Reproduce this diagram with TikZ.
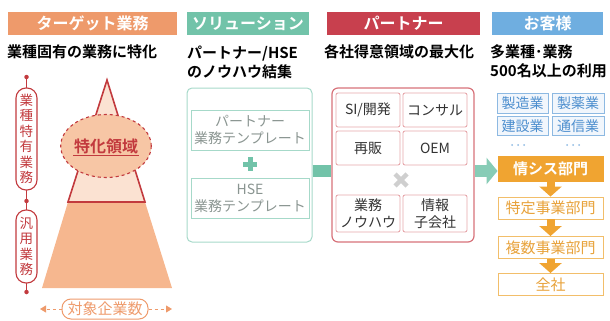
\documentclass[tikz,border=0pt]{standalone}
\usepackage{fontspec}
\setmainfont{Noto Sans CJK JP}[BoldFont={Noto Sans CJK JP Bold}]
\usetikzlibrary{arrows.meta,calc,shapes.geometric}
\definecolor{cOrg}{HTML}{EE9A6B}
\definecolor{cTeal}{HTML}{72C3A9}
\definecolor{cCrim}{HTML}{C8404E}
\definecolor{cBlue}{HTML}{6FAEE0}
\definecolor{cRed}{HTML}{C23A3E}
\definecolor{cPeach}{HTML}{F6B78F}
\definecolor{cPeachL}{HTML}{FBE2D2}
\definecolor{cCirc}{HTML}{F7C6A5}
\definecolor{cTealL}{HTML}{A6D9C9}
\definecolor{cGrayT}{HTML}{8A9591}
\definecolor{cRedB}{HTML}{D7727A}
\definecolor{cRedL}{HTML}{E6A7AB}
\definecolor{cBlueB}{HTML}{8DB9E2}
\definecolor{cBlueT}{HTML}{4C8ECE}
\definecolor{cBlueF}{HTML}{F1F6FC}
\definecolor{cGold}{HTML}{F0A431}
\definecolor{cGoldL}{HTML}{F2BE6A}
\definecolor{cGoldT}{HTML}{E8A23A}
\definecolor{cX}{HTML}{CFCFCF}
\tikzset{
 hdr/.style={minimum height=23pt, inner sep=0pt, text=white, font=\bfseries\fontsize{16}{16}\selectfont},
 sub/.style={anchor=west, inner sep=0pt, align=left, font=\bfseries\fontsize{15}{19}\selectfont},
 pill/.style={draw=cRed, line width=1.1pt, fill=white, rounded corners=10pt, minimum width=21pt, inner sep=0pt, text=cRed, align=center, font=\fontsize{13.5}{15.5}\selectfont},
 rdot/.style={circle, fill=cRed, inner sep=0pt, minimum size=4.5pt},
 tbox/.style={draw=cTealL, line width=0.8pt, minimum width=118pt, minimum height=40pt, inner sep=0pt, text=cGrayT, align=center, font=\fontsize{14}{17}\selectfont},
 pbox/.style={draw=cRedL, line width=0.9pt, rounded corners=2pt, minimum width=64pt, inner sep=0pt, text=black!80, align=center, font=\fontsize{14}{17}\selectfont},
 bbox/.style={draw=cBlueB, fill=cBlueF, line width=0.8pt, minimum height=19.5pt, inner sep=0pt, text=cBlueT, font=\fontsize{14}{14}\selectfont},
 gbox/.style={draw=cGoldL, line width=0.9pt, fill=white, minimum width=105pt, minimum height=22pt, inner sep=0pt, text=cGoldT, font=\fontsize{15}{15}\selectfont},
 garr/.style={draw=cGold, line width=8pt, -{Triangle[width=22pt,length=10pt]}},
 bdot/.style={circle, fill=cBlueB, inner sep=0pt, minimum size=2pt},
}
\begin{document}
\begin{tikzpicture}[x=1pt,y=-1pt]
\useasboundingbox (0,0) rectangle (610,321);
% headers
\node[hdr, fill=cOrg, minimum width=169pt] (h1) at (92.5,23.5) {ターゲット業務};
\node[hdr, fill=cTeal, minimum width=122pt] (h2) at (248,23.5) {ソリューション};
\node[hdr, fill=cCrim, minimum width=153pt] (h3) at (403.5,23.5) {パートナー};
\node[hdr, fill=cBlue, minimum width=111pt] (h4) at (547.5,23.5) {お客様};
% subtitles
\node[sub] (s1) at (7,52) {業種固有の業務に特化};
\node[sub] (s2) at (187,62.5) {パートナー/HSE\\のノウハウ結集};
\node[sub] (s3) at (324,52) {各社得意領域の最大化};
\node[sub] (s4) at (490,61.5) {多業種･業務\\500名以上の利用};
% left panel: pyramid
\fill[cPeach] (68,202) -- (145,202) -- (172,288) -- (42,288) -- cycle;
\fill[cPeachL] (107,80) -- (145,202) -- (68,202) -- cycle;
\draw[cRed, line width=1.6pt, line join=miter] (107,80) -- (145,202) -- (68,202) -- cycle;
\node[ellipse, minimum width=74pt, minimum height=63pt, inner sep=0pt, fill=cCirc, draw=cRed, dashed, line width=1.1pt, text=cRed, font=\bfseries\fontsize{16}{16}\selectfont] (spec) at (106,146) {特化領域};
\draw[cRed, line width=0.9pt] ($(spec.center)+(-33,9.5)$) -- ($(spec.center)+(33,9.5)$);
% left pills
\node[rdot] (d1) at (26.5,77) {};
\node[rdot] (d2) at (26.5,201) {};
\node[rdot] (d3) at (26.5,292) {};
\draw[cRed, line width=1.1pt] (d1) -- (26.5,88) (26.5,190) -- (d2) -- (26.5,210) (26.5,283) -- (d3);
\node[pill, minimum height=102pt] (pl1) at (26.5,139) {業\\種\\特\\有\\業\\務};
\node[pill, minimum height=73pt] (pl2) at (26.5,246.5) {汎\\用\\業\\務};
% target count
\node[draw=cOrg, line width=1pt, rounded corners=9pt, minimum width=86pt, minimum height=20pt, inner sep=0pt, text=cOrg, font=\fontsize{15}{15}\selectfont] (tgt) at (105,309) {対象企業数};
\coordinate (tl) at (40,309);
\coordinate (tr) at (172,309);
\draw[cOrg, line width=1pt, dashed, -{Triangle[width=7pt,length=6pt]}] (tgt) -- (tl);
\draw[cOrg, line width=1pt, dashed, -{Triangle[width=7pt,length=6pt]}] (tgt) -- (tr);
% solution panel
\node[draw=cTealL, line width=1pt, rounded corners=5pt, minimum width=125pt, minimum height=154pt, inner sep=0pt] (p2) at (249.5,165) {};
\node[tbox] (t1) at (250,130) {パートナー\\業務テンプレート};
\node[tbox] (t2) at (250,198) {HSE\\業務テンプレート};
\path (t1.south) -- (t2.north) coordinate[midway] (plus);
\draw[cTeal, line width=5pt] ($(plus)+(-7,0)$) -- ($(plus)+(7,0)$) ($(plus)+(0,-7)$) -- ($(plus)+(0,7)$);
% partner panel
\node[draw=cRedB, line width=1.2pt, rounded corners=6pt, minimum width=142pt, minimum height=154pt, inner sep=0pt] (p3) at (403,165) {};
\node[pbox, minimum height=34pt] (q1) at (368,110) {SI/開発};
\node[pbox, minimum height=34pt] (q2) at (435,110) {コンサル};
\node[pbox, minimum height=34pt] (q3) at (368,148) {再販};
\node[pbox, minimum height=34pt] (q4) at (435,148) {OEM};
\node[pbox, minimum height=37pt] (q5) at (368,213.5) {業務\\ノウハウ};
\node[pbox, minimum height=37pt] (q6) at (435,213.5) {情報\\子会社};
\coordinate (xx) at (401,180);
\draw[cX, line width=4.5pt] ($(xx)+(-6,-6)$) -- ($(xx)+(6,6)$) ($(xx)+(-6,6)$) -- ($(xx)+(6,-6)$);
% connectors
\coordinate (my) at (0,171);
\draw[cTeal, line width=12pt] (p2.east|-my) -- (p3.west|-my);
% customers
\node[bbox, minimum width=51pt] (m1) at (522.5,103.5) {製造業};
\node[bbox, minimum width=52pt] (m2) at (578,103.5) {製薬業};
\node[bbox, minimum width=51pt] (m3) at (522.5,126) {建設業};
\node[bbox, minimum width=52pt] (m4) at (578,126) {通信業};
\foreach \x in {512,518,524,567,573,579} \node[bdot] at (\x,145) {};
\node[gbox, fill=cGold, draw=cGold, text=white, minimum height=25pt, font=\bfseries\fontsize{15}{15}\selectfont] (g1) at (550.5,168.5) {情シス部門};
\node[gbox] (g2) at (550.5,208) {特定事業部門};
\node[gbox] (g3) at (550.5,247.5) {複数事業部門};
\node[gbox] (g4) at (550.5,284.5) {全社};
\draw[garr] (g1) -- (g2);
\draw[garr] (g2) -- (g3);
\draw[garr] (g3) -- (g4);
\draw[cTeal!85, line width=12pt, -{Triangle[width=26pt,length=11pt]}] (p3.east|-my) -- (g1.west|-my);
\end{tikzpicture}
\end{document}
